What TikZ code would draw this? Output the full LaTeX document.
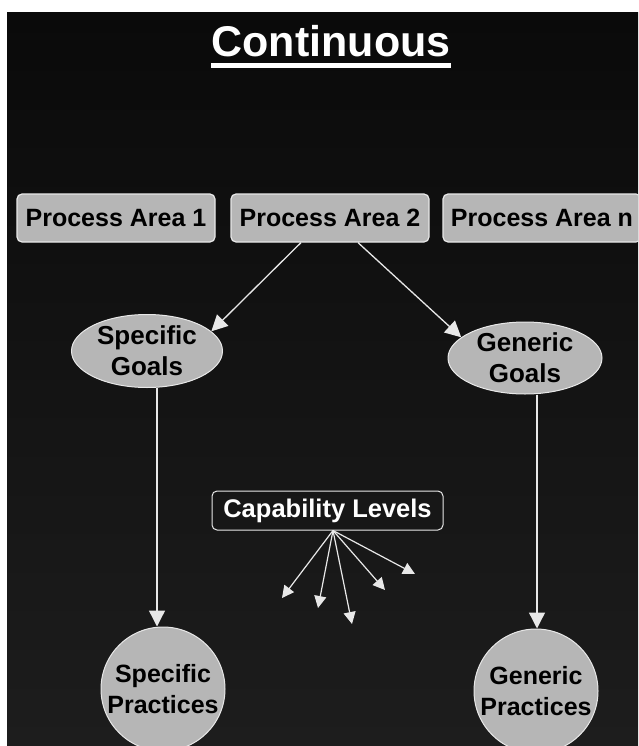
\documentclass[tikz,border=0pt]{standalone}
\usepackage{fontspec}
\setmainfont{Liberation Sans}
\usetikzlibrary{shapes.geometric,arrows.meta}

\definecolor{slidetop}{HTML}{0A0A0A}
\definecolor{slidelow}{HTML}{1D1D1D}
\definecolor{boxgray}{HTML}{B6B6B6}
\definecolor{edge}{HTML}{E8E8E8}

\begin{document}
\begin{tikzpicture}[x=1pt, y=-1pt,
    every node/.style={align=center},
    areabox/.style={draw=edge, line width=1.2pt, fill=boxgray, rounded corners=5pt,
        minimum width=198pt, minimum height=48pt, inner sep=0pt,
        font=\fontsize{25}{29}\selectfont\bfseries},
    goal/.style={ellipse, draw=edge, line width=1pt, fill=boxgray, inner sep=0pt,
        font=\fontsize{26}{31}\selectfont\bfseries},
    practice/.style={circle, draw=edge, line width=1pt, fill=boxgray,
        minimum size=124pt, inner sep=0pt, font=\fontsize{25}{31}\selectfont\bfseries},
    link/.style={draw=edge, line width=1.3pt, -{Triangle[length=16pt,width=16pt]}},
    levelarrow/.style={draw=edge, line width=1.2pt, -{Triangle[length=12pt,width=12pt]}}]

        % Page and slide background
        \clip (0,0) rectangle (638,746);
        \fill[white] (0,0) rectangle (638,746);
        \shade[top color=slidetop, bottom color=slidelow] (7,13) rectangle (638,746);

        % Title
        \node[text=white, inner sep=0pt, anchor=base,
              font=\fontsize{43}{50}\selectfont\bfseries] (title) at (331,57) {Continuous};
        \draw[white, line width=5pt] ([yshift=-8.5pt]title.base west) -- ([yshift=-8.5pt]title.base east);

        % Process areas
        \node[areabox] (pa1) at (116,218) {Process Area 1};
        \node[areabox] (pa2) at (330,218) {Process Area 2};
        \node[areabox] (pan) at (542,218) {Process Area n};

        % Goals
        \node[goal, minimum width=151pt, minimum height=73pt] (sg) at (147,351) {Specific\\Goals};
        \node[goal, minimum width=154pt, minimum height=72pt] (gg) at (525,358) {Generic\\Goals};

        % Practices
        \node[practice] (spr) at (163,689) {Specific\\Practices};
        \node[practice] (gpr) at (536,691) {Generic\\Practices};

        % Capability levels
        \node[draw=edge, line width=1pt, rounded corners=5pt, text=white,
              minimum width=231pt, minimum height=39pt, inner sep=0pt,
              font=\fontsize{25.5}{30}\selectfont\bfseries] (cl) at (327.5,510.5) {Capability Levels};

        % Arrows
        \draw[link] ([xshift=-29pt]pa2.south) -- (sg.17);
        \draw[link] ([xshift=28pt]pa2.south) -- (gg.162);
        \draw[link] ([xshift=10pt]sg.south) -- ([xshift=-6pt]spr.north);
        \draw[link] ([xshift=12pt]gg.south) -- ([xshift=1pt]gpr.north);

        \coordinate (foot) at ([xshift=5.5pt]cl.south);
        \foreach \lx/\ly [count=\i] in {282/598, 318/608, 352/624, 385/590, 415/574}
            \coordinate (lvl\i) at (\lx,\ly);
        \foreach \i in {1,...,5}
            \draw[levelarrow] (foot) -- (lvl\i);

    \end{tikzpicture}
\end{document}
